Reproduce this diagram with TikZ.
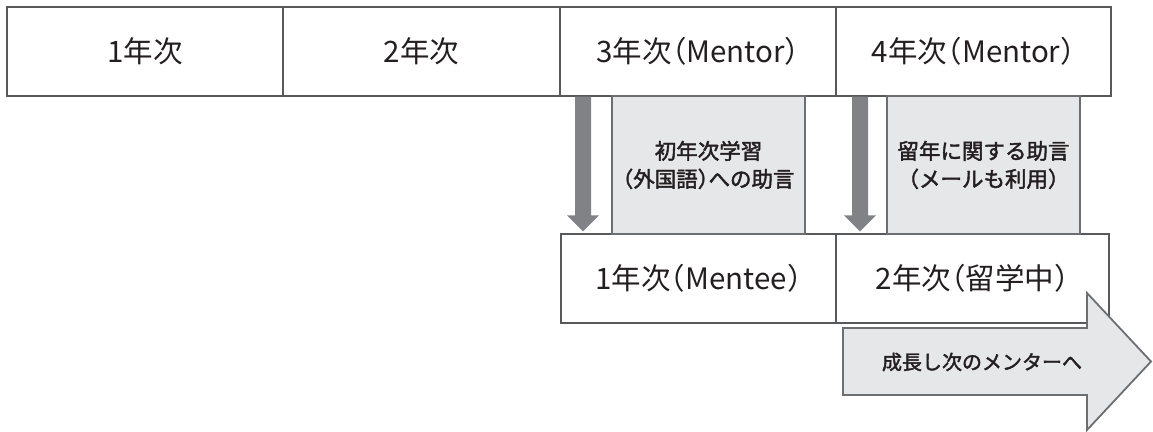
\documentclass[tikz,border=0pt]{standalone}
\usepackage{fontspec}
\setmainfont{Noto Sans CJK JP}
\newfontfamily\medfont[FakeBold=2]{Noto Sans CJK JP}
\usetikzlibrary{calc}
\definecolor{edge}{HTML}{58595B}
\definecolor{boxfill}{HTML}{E6E7E8}
\definecolor{boxedge}{HTML}{6D6E71}
\definecolor{arrowgray}{HTML}{808285}
\definecolor{ink}{HTML}{231F20}
\newcommand{\lpar}{\makebox[0.5em][r]{（}}
\newcommand{\rpar}{\makebox[0.5em][l]{）}}
\begin{document}
\begin{tikzpicture}[x=1pt,y=-1pt,
  cell/.style={draw=edge, line width=1.3pt, fill=white, inner sep=0pt, minimum height=89pt,
    font=\fontsize{29.5}{34}\selectfont, text=ink},
  advice/.style={draw=boxedge, line width=1.8pt, fill=boxfill, inner sep=0pt,
    minimum width=193pt, minimum height=138pt, align=center,
    font=\medfont\fontsize{21.5}{28}\selectfont, text=ink},
  downarrow/.style={fill=arrowgray, draw=none}
]
\useasboundingbox (0,0) rectangle (1153,431);
% top row
\node[cell, minimum width=276pt] (t1) at (145,51.5) {1年次};
\node[cell, minimum width=277pt] (t2) at (421.5,51.5) {2年次};
\node[cell, minimum width=276pt] (t3) at (698,51.5) {3年次\lpar Mentor\rpar};
\node[cell, minimum width=275pt] (t4) at (973.5,51.5) {4年次\lpar Mentor\rpar};
% bottom row
\node[cell, minimum width=275pt] (b1) at (698.5,278.5) {1年次\lpar Mentee\rpar};
\node[cell, minimum width=273pt] (b2) at (972.5,278.5) {2年次\lpar 留学中\rpar};
% advice boxes
\node[advice] (a1) at (708.5,165) {初年次学習\\\lpar 外国語\rpar への助言};
\node[advice] (a2) at (983.5,165) {留年に関する助言\\\lpar メールも利用\rpar};
% down arrows
\coordinate (d1s) at (583,0 |- t3.south);
\coordinate (d1e) at (583,0 |- b1.north);
\fill[downarrow] ($(d1s)+(-8,0)$) -- ($(d1s)+(8,0)$) -- ($(d1e)+(8,-18)$) -- ($(d1e)+(16,-18)$)
  -- ($(d1e)+(0,-2)$) -- ($(d1e)+(-16,-18)$) -- ($(d1e)+(-8,-18)$) -- cycle;
\coordinate (d2s) at (860,0 |- t4.south);
\coordinate (d2e) at (860,0 |- b2.north);
\fill[downarrow] ($(d2s)+(-8,0)$) -- ($(d2s)+(8,0)$) -- ($(d2e)+(8,-18)$) -- ($(d2e)+(16,-18)$)
  -- ($(d2e)+(0,-2)$) -- ($(d2e)+(-16,-18)$) -- ($(d2e)+(-8,-18)$) -- cycle;
% big arrow
\draw[draw=boxedge, line width=1.8pt, fill=boxfill, line join=miter]
  (843,328) -- (1087,328) -- (1087,293) -- (1151,361.5) -- (1087,430) -- (1087,395) -- (843,395) -- cycle;
\node[font=\medfont\fontsize{20}{24}\selectfont, text=ink, inner sep=0pt] (grow) at (982,362) {成長し次のメンターへ};
\end{tikzpicture}
\end{document}
